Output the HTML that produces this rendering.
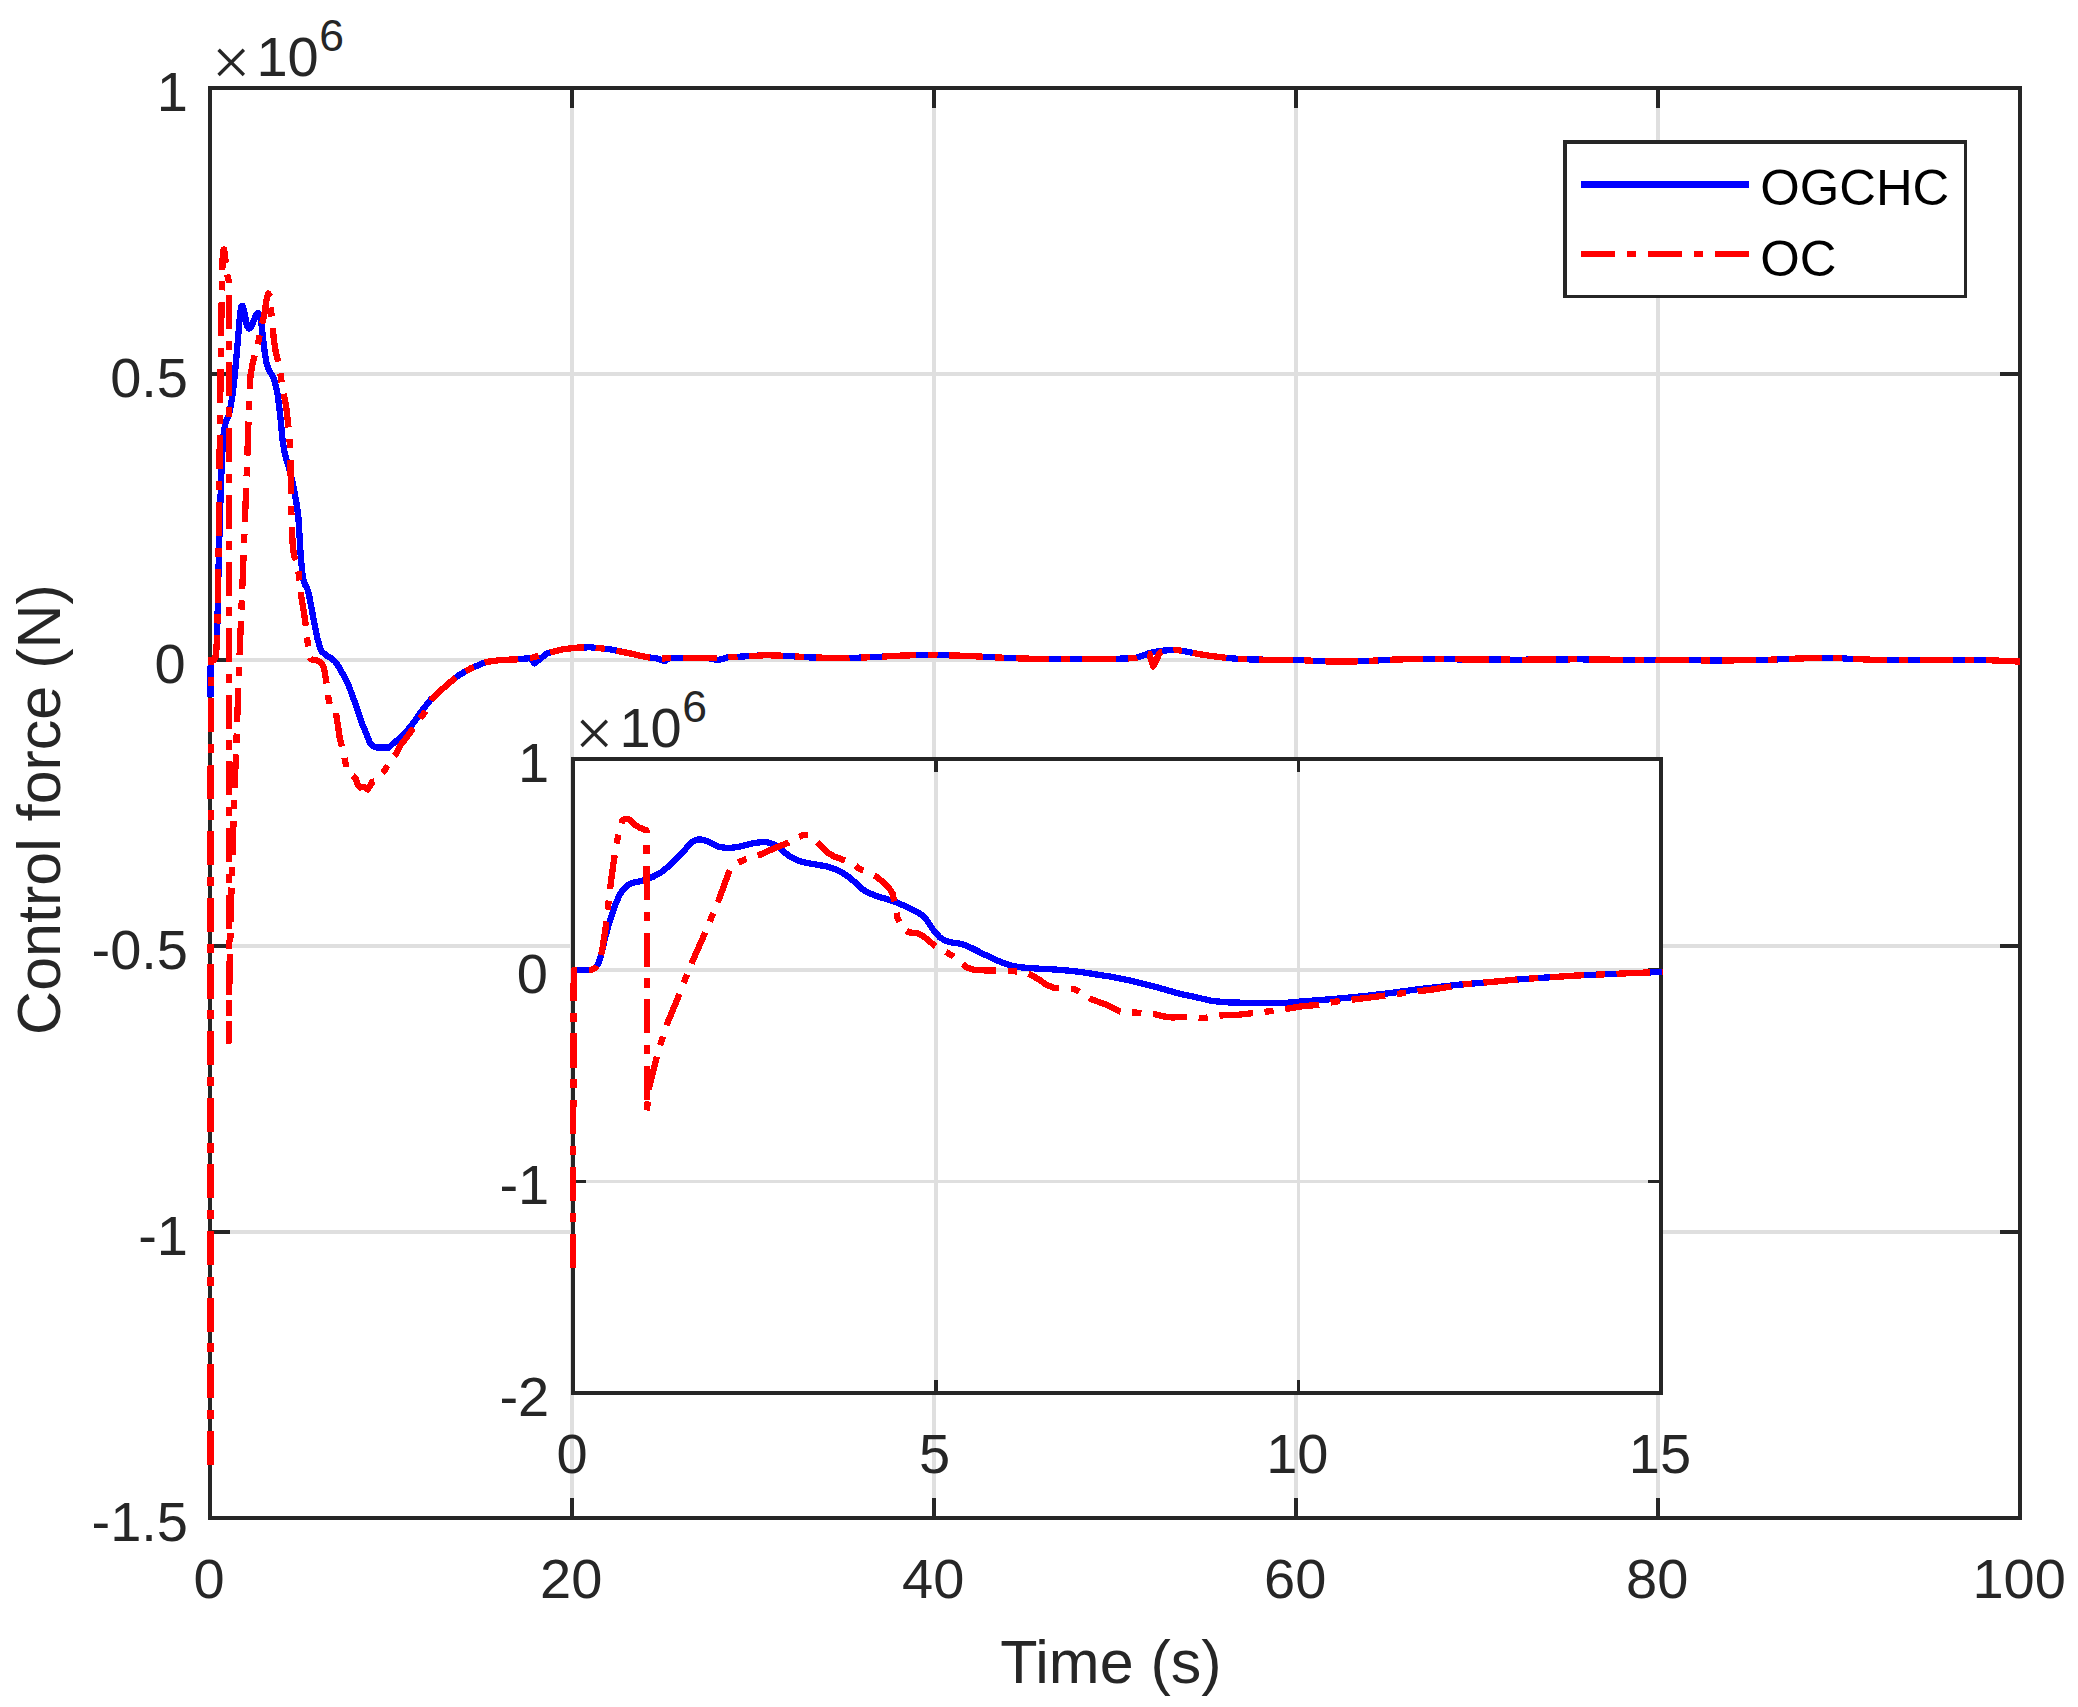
<!DOCTYPE html>
<html lang="en"><head><meta charset="utf-8"><title>Control force</title>
<style>html,body{margin:0;padding:0;background:#fff;}body{width:2078px;height:1707px;overflow:hidden;}svg{display:block;}text{font-family:"Liberation Sans",sans-serif;fill:#262626;}</style>
</head><body>
<svg width="2078" height="1707" viewBox="0 0 2078 1707">
<rect x="0" y="0" width="2078" height="1707" fill="#ffffff"/>
<defs><clipPath id="cm"><rect x="206.8" y="88.0" width="1816.4" height="1430.0"/></clipPath><clipPath id="ci"><rect x="569.8" y="759.0" width="1093.2" height="634.0"/></clipPath></defs>
<g stroke="#dfdfdf" stroke-width="4.0" fill="none">
<line x1="572.0" y1="88.0" x2="572.0" y2="1518.0"/>
<line x1="934.0" y1="88.0" x2="934.0" y2="1518.0"/>
<line x1="1296.0" y1="88.0" x2="1296.0" y2="1518.0"/>
<line x1="1658.0" y1="88.0" x2="1658.0" y2="1518.0"/>
<line x1="210.0" y1="374.0" x2="2020.0" y2="374.0"/>
<line x1="210.0" y1="660.0" x2="2020.0" y2="660.0"/>
<line x1="210.0" y1="946.0" x2="2020.0" y2="946.0"/>
<line x1="210.0" y1="1232.0" x2="2020.0" y2="1232.0"/>
</g>
<g stroke="#262626" stroke-width="4.0" fill="none" stroke-linecap="butt">
<line x1="572.0" y1="1518.0" x2="572.0" y2="1498.0"/>
<line x1="572.0" y1="88.0" x2="572.0" y2="108.0"/>
<line x1="934.0" y1="1518.0" x2="934.0" y2="1498.0"/>
<line x1="934.0" y1="88.0" x2="934.0" y2="108.0"/>
<line x1="1296.0" y1="1518.0" x2="1296.0" y2="1498.0"/>
<line x1="1296.0" y1="88.0" x2="1296.0" y2="108.0"/>
<line x1="1658.0" y1="1518.0" x2="1658.0" y2="1498.0"/>
<line x1="1658.0" y1="88.0" x2="1658.0" y2="108.0"/>
<line x1="210.0" y1="374.0" x2="230.0" y2="374.0"/>
<line x1="2020.0" y1="374.0" x2="2000.0" y2="374.0"/>
<line x1="210.0" y1="660.0" x2="230.0" y2="660.0"/>
<line x1="2020.0" y1="660.0" x2="2000.0" y2="660.0"/>
<line x1="210.0" y1="946.0" x2="230.0" y2="946.0"/>
<line x1="2020.0" y1="946.0" x2="2000.0" y2="946.0"/>
<line x1="210.0" y1="1232.0" x2="230.0" y2="1232.0"/>
<line x1="2020.0" y1="1232.0" x2="2000.0" y2="1232.0"/>
<rect x="210.0" y="88.0" width="1810.0" height="1430.0" stroke-linejoin="miter"/>
</g>
<g fill="none" stroke-linejoin="round" clip-path="url(#cm)" shape-rendering="crispEdges">
<path d="M210.5 697.2 L210.7 659.9 L214.1 659.9 L215.4 657.5 L216.3 650.9 L217.0 638.0 L217.7 609.8 L218.4 574.7 L219.3 539.5 L220.2 508.2 L221.1 480.9 L222.0 457.4 L223.1 439.9 L224.2 429.3 L225.6 422.3 L227.4 418.4 L228.9 414.5 L230.7 405.9 L232.5 394.9 L234.3 379.3 L236.1 360.9 L237.9 340.2 L239.3 322.6 L240.4 311.7 L241.5 306.2 L242.6 305.8 L244.0 310.1 L245.4 317.9 L246.9 325.4 L248.7 328.5 L250.5 327.7 L252.3 324.6 L254.1 319.9 L255.9 315.2 L257.7 312.9 L259.1 313.6 L260.6 318.7 L262.0 328.5 L263.5 342.2 L264.9 353.9 L266.7 363.7 L268.5 368.7 L270.3 372.3 L272.1 375.4 L273.9 379.3 L275.7 385.2 L277.5 394.1 L279.3 407.4 L280.7 420.3 L282.5 439.3 L284.3 451.0 L286.5 460.0 L288.7 466.6 L290.8 474.5 L293.0 484.2 L295.1 495.2 L296.9 505.7 L298.4 517.4 L299.5 535.0 L300.5 552.6 L302.0 570.2 L303.4 580.0 L305.2 585.0 L307.0 587.8 L308.8 593.6 L311.0 605.4 L313.2 617.1 L315.3 628.0 L317.5 638.6 L319.6 646.4 L321.8 651.5 L324.0 653.4 L327.6 656.2 L331.2 658.1 L334.8 661.2 L338.4 666.3 L341.3 671.5 L345.1 677.8 L348.9 686.2 L352.8 696.7 L356.6 707.0 L362.0 723.8 L365.8 732.2 L369.7 742.5 L373.5 746.5 L377.3 747.6 L388.9 747.6 L392.7 743.8 L396.6 740.8 L401.9 736.0 L408.1 729.5 L414.4 721.6 L421.1 711.6 L430.7 699.7 L446.7 685.1 L458.2 675.6 L470.5 668.5 L485.9 662.0 L501.3 659.9 L516.7 659.4 L530.5 658.1 L534.4 663.3 L547.5 653.1 L562.9 649.2 L578.3 647.5 L590.6 647.3 L609.1 649.2 L630.5 653.5 L646.9 657.2 L658.4 658.7 L664.2 661.2 L670.0 658.1 L689.2 658.1 L708.5 658.1 L718.1 660.1 L727.7 657.4 L747.0 656.2 L766.2 655.2 L785.5 655.8 L809.4 657.4 L838.2 658.1 L857.5 657.7 L876.7 657.0 L896.0 655.8 L915.2 655.2 L934.5 655.1 L953.7 655.4 L973.0 656.2 L992.2 657.2 L1011.5 658.1 L1030.7 658.7 L1069.2 658.9 L1107.7 658.9 L1127.0 658.5 L1136.6 657.7 L1142.4 655.8 L1150.1 652.9 L1159.0 651.0 L1174.4 649.7 L1185.9 651.4 L1197.5 653.9 L1212.9 656.2 L1228.3 658.1 L1245.6 659.3 L1274.5 659.9 L1296.6 659.9 L1313.0 660.8 L1332.2 661.6 L1351.5 661.6 L1370.7 660.8 L1390.0 659.7 L1418.9 658.9 L1447.7 659.3 L1476.6 659.5 L1520.5 659.7 L1577.5 659.3 L1664.1 660.3 L1731.5 660.4 L1770.0 659.7 L1798.9 658.5 L1827.7 657.7 L1832.5 657.7 L1847.9 658.7 L1871.0 659.7 L1928.7 659.9 L1986.5 660.1 L2020.2 661.6" stroke="#0000ff" stroke-width="6.30"/>
<path d="M210.5 1464.8 L210.7 659.9 L214.1 659.9 L215.4 657.5 L216.3 650.9 L217.0 638.0 L217.6 613.7 L218.1 586.4 L218.6 547.3 L219.1 496.5 L219.9 430.1 L220.6 371.5 L221.1 332.4 L221.7 301.1 L222.2 273.8 L222.7 256.2 L223.5 249.6 L224.2 249.6 L225.1 256.2 L226.0 266.0 L227.1 273.8 L228.2 278.5 L228.9 281.6 L228.9 1041.3 L229.4 980.4 L231.5 888.6 L232.8 846.4 L234.1 802.0 L236.5 740.3 L238.6 680.2 L240.6 629.4 L243.3 562.9 L245.1 516.1 L246.9 469.2 L248.3 426.2 L249.4 394.9 L250.5 375.4 L252.6 363.7 L254.1 357.8 L257.0 348.0 L260.6 330.4 L264.2 314.8 L266.7 299.2 L268.1 293.3 L269.6 295.3 L271.7 316.8 L273.9 340.2 L275.7 351.9 L278.6 363.7 L280.7 375.4 L282.2 386.5 L286.1 406.1 L287.9 421.7 L289.4 437.3 L290.3 453.0 L290.6 472.5 L291.0 495.9 L291.5 519.4 L292.6 542.8 L294.1 556.5 L296.6 560.4 L298.0 568.2 L299.5 581.9 L301.1 595.6 L303.1 607.3 L305.2 621.0 L307.4 640.5 L308.8 652.2 L310.6 658.9 L313.2 660.1 L316.2 660.1 L320.4 662.0 L323.2 665.9 L324.7 671.8 L326.8 685.5 L328.6 699.1 L330.4 707.0 L331.9 708.9 L335.8 711.6 L339.8 738.2 L343.8 753.8 L347.0 771.4 L351.2 774.7 L355.6 778.1 L357.8 784.8 L360.0 787.5 L363.6 786.7 L367.7 789.5 L372.2 782.0 L375.8 780.9 L379.4 776.9 L384.1 771.1 L388.4 764.4 L392.4 757.4 L396.4 753.5 L400.7 744.9 L405.4 739.0 L409.0 734.1 L416.9 723.0 L424.9 712.1 L433.1 697.5 L446.7 685.1 L458.2 675.6 L470.5 668.5 L484.6 662.5" pathLength="3484.00" stroke="#ff0000" stroke-width="6.30" stroke-dasharray="34.2 11.8 9.2 11.8"/>
<path d="M484.6 662.5 L485.9 662.0 L501.3 659.9 L516.7 659.4 L530.5 658.1 L547.5 653.1 L550.1 652.4" pathLength="67.00" stroke="#ff0000" stroke-width="6.30" stroke-dasharray="34.2 11.8 9.2 11.8"/>
<path d="M550.1 652.4 L562.9 649.2 L578.3 647.5 L590.6 647.3 L609.1 649.2 L616.4 650.7" pathLength="67.00" stroke="#ff0000" stroke-width="6.30" stroke-dasharray="34.2 11.8 9.2 11.8"/>
<path d="M616.4 650.7 L630.5 653.5 L646.9 657.2 L658.4 658.7 L670.0 658.1 L682.8 658.1" pathLength="67.00" stroke="#ff0000" stroke-width="6.30" stroke-dasharray="34.2 11.8 9.2 11.8"/>
<path d="M682.8 658.1 L689.2 658.1 L708.5 658.1 L727.7 657.4 L747.0 656.2 L749.2 656.1" pathLength="67.00" stroke="#ff0000" stroke-width="6.30" stroke-dasharray="34.2 11.8 9.2 11.8"/>
<path d="M749.2 656.1 L766.2 655.2 L785.5 655.8 L809.4 657.4 L815.6 657.5" pathLength="67.00" stroke="#ff0000" stroke-width="6.30" stroke-dasharray="34.2 11.8 9.2 11.8"/>
<path d="M815.6 657.5 L838.2 658.1 L857.5 657.7 L876.7 657.0 L882.0 656.7" pathLength="67.00" stroke="#ff0000" stroke-width="6.30" stroke-dasharray="34.2 11.8 9.2 11.8"/>
<path d="M882.0 656.7 L896.0 655.8 L915.2 655.2 L934.5 655.1 L949.4 655.4" pathLength="67.00" stroke="#ff0000" stroke-width="6.30" stroke-dasharray="34.2 11.8 9.2 11.8"/>
<path d="M949.4 655.4 L953.7 655.4 L973.0 656.2 L992.2 657.2 L1011.5 658.1 L1015.6 658.3" pathLength="67.00" stroke="#ff0000" stroke-width="6.30" stroke-dasharray="34.2 11.8 9.2 11.8"/>
<path d="M1015.6 658.3 L1030.7 658.7 L1069.2 658.9 L1082.0 658.9" pathLength="67.00" stroke="#ff0000" stroke-width="6.30" stroke-dasharray="34.2 11.8 9.2 11.8"/>
<path d="M1082.0 658.9 L1107.7 658.9 L1127.0 658.5 L1136.6 657.7 L1142.4 655.8 L1148.4 654.2" pathLength="67.00" stroke="#ff0000" stroke-width="6.30" stroke-dasharray="34.2 11.8 9.2 11.8"/>
<path d="M1148.4 654.2 L1149.4 653.9 L1153.2 666.4 L1160.0 652.4 L1174.4 649.7 L1185.9 651.4 L1192.7 652.9" pathLength="67.00" stroke="#ff0000" stroke-width="6.30" stroke-dasharray="34.2 11.8 9.2 11.8"/>
<path d="M1192.7 652.9 L1197.5 653.9 L1212.9 656.2 L1228.3 658.1 L1245.6 659.3 L1259.1 659.6" pathLength="67.00" stroke="#ff0000" stroke-width="6.30" stroke-dasharray="34.2 11.8 9.2 11.8"/>
<path d="M1259.1 659.6 L1274.5 659.9 L1296.6 659.9 L1313.0 660.8 L1324.6 661.3" pathLength="67.00" stroke="#ff0000" stroke-width="6.30" stroke-dasharray="34.2 11.8 9.2 11.8"/>
<path d="M1324.6 661.3 L1332.2 661.6 L1351.5 661.6 L1370.7 660.8 L1389.8 659.7" pathLength="67.00" stroke="#ff0000" stroke-width="6.30" stroke-dasharray="34.2 11.8 9.2 11.8"/>
<path d="M1389.8 659.7 L1390.0 659.7 L1418.9 658.9 L1447.7 659.3 L1455.3 659.3" pathLength="67.00" stroke="#ff0000" stroke-width="6.30" stroke-dasharray="34.2 11.8 9.2 11.8"/>
<path d="M1455.3 659.3 L1476.6 659.5 L1520.5 659.7 L1521.7 659.7" pathLength="67.00" stroke="#ff0000" stroke-width="6.30" stroke-dasharray="34.2 11.8 9.2 11.8"/>
<path d="M1521.7 659.7 L1577.5 659.3 L1589.1 659.4" pathLength="67.00" stroke="#ff0000" stroke-width="6.30" stroke-dasharray="34.2 11.8 9.2 11.8"/>
<path d="M1589.1 659.4 L1655.5 660.2" pathLength="67.00" stroke="#ff0000" stroke-width="6.30" stroke-dasharray="34.2 11.8 9.2 11.8"/>
<path d="M1655.5 660.2 L1664.1 660.3 L1721.9 660.4" pathLength="67.00" stroke="#ff0000" stroke-width="6.30" stroke-dasharray="34.2 11.8 9.2 11.8"/>
<path d="M1721.9 660.4 L1731.5 660.4 L1770.0 659.7 L1788.7 658.9" pathLength="67.00" stroke="#ff0000" stroke-width="6.30" stroke-dasharray="34.2 11.8 9.2 11.8"/>
<path d="M1788.7 658.9 L1798.9 658.5 L1827.7 657.7 L1832.5 657.7 L1847.9 658.7 L1853.2 658.9" pathLength="67.00" stroke="#ff0000" stroke-width="6.30" stroke-dasharray="34.2 11.8 9.2 11.8"/>
<path d="M1853.2 658.9 L1871.0 659.7 L1919.6 659.8" pathLength="67.00" stroke="#ff0000" stroke-width="6.30" stroke-dasharray="34.2 11.8 9.2 11.8"/>
<path d="M1919.6 659.8 L1928.7 659.9 L1986.0 660.1" pathLength="67.00" stroke="#ff0000" stroke-width="6.30" stroke-dasharray="34.2 11.8 9.2 11.8"/>
<path d="M1986.0 660.1 L1986.5 660.1 L2020.2 661.6" pathLength="34.52" stroke="#ff0000" stroke-width="6.30" stroke-dasharray="34.2 11.8 9.2 11.8"/>
</g>
<rect x="573.0" y="759.0" width="1088.0" height="634.0" fill="#ffffff"/>
<g shape-rendering="crispEdges">
<rect x="934" y="759" width="4" height="634" fill="#dfdfdf"/>
<rect x="1297" y="759" width="3" height="634" fill="#dfdfdf"/>
<rect x="573" y="968" width="1088" height="4" fill="#dfdfdf"/>
<rect x="573" y="1180" width="1088" height="3" fill="#dfdfdf"/>
<rect x="934" y="1380" width="4" height="13" fill="#262626"/>
<rect x="934" y="759" width="4" height="13" fill="#262626"/>
<rect x="1297" y="1380" width="3" height="13" fill="#262626"/>
<rect x="1297" y="759" width="3" height="13" fill="#262626"/>
<rect x="573" y="968" width="13" height="4" fill="#262626"/>
<rect x="1648" y="968" width="13" height="4" fill="#262626"/>
<rect x="573" y="1180" width="13" height="3" fill="#262626"/>
<rect x="1648" y="1180" width="13" height="3" fill="#262626"/>
<rect x="571" y="757" width="4" height="638" fill="#262626"/>
<rect x="1659" y="757" width="4" height="638" fill="#262626"/>
<rect x="571" y="757" width="1092" height="4" fill="#262626"/>
<rect x="571" y="1391" width="1092" height="4" fill="#262626"/>
</g>
<g fill="none" stroke-linejoin="round" clip-path="url(#ci)" shape-rendering="crispEdges">
<path d="M573.7 970.3 L587.4 970.3 L592.5 969.4 L596.1 967.0 L599.0 962.2 L601.9 951.8 L604.8 938.8 L608.4 925.8 L612.0 914.3 L615.6 904.2 L619.2 895.5 L623.5 889.0 L627.9 885.1 L633.6 882.5 L640.8 881.1 L646.6 879.6 L653.8 876.4 L661.1 872.4 L668.3 866.6 L675.5 859.8 L682.7 852.2 L688.5 845.7 L692.8 841.6 L697.2 839.6 L701.5 839.5 L707.3 841.1 L713.0 844.0 L718.8 846.7 L726.0 847.9 L733.2 847.6 L740.5 846.4 L747.7 844.7 L754.9 842.9 L762.1 842.1 L767.9 842.4 L773.7 844.2 L779.4 847.9 L785.2 852.9 L791.0 857.2 L798.2 860.8 L805.4 862.7 L812.6 864.0 L819.9 865.2 L827.1 866.6 L834.3 868.8 L841.5 872.1 L848.7 877.0 L854.5 881.8 L861.7 888.8 L868.9 893.1 L877.5 896.4 L886.2 898.9 L894.9 901.8 L903.5 905.4 L912.2 909.4 L919.4 913.3 L925.2 917.7 L929.5 924.2 L933.8 930.7 L939.6 937.2 L945.4 940.8 L952.6 942.6 L959.8 943.6 L967.0 945.8 L975.7 950.1 L984.4 954.5 L993.0 958.5 L1001.7 962.4 L1010.4 965.3 L1019.0 967.2 L1027.7 967.9 L1042.1 968.9 L1056.6 969.6 L1071.0 970.8 L1085.4 972.7 L1097.0 974.6 L1112.4 976.9 L1127.8 980.0 L1143.2 983.9 L1158.6 987.7 L1180.0 993.9 L1195.4 997.0 L1210.8 1000.8 L1226.2 1002.3 L1241.6 1002.7 L1287.8 1002.7 L1303.2 1001.3 L1318.6 1000.2 L1340.0 998.4 L1365.0 996.0 L1390.0 993.1 L1417.0 989.4 L1455.5 985.0 L1500.0 981.2 L1515.5 979.6 L1573.2 975.7 L1631.0 973.1 L1661.3 972.0 L1663.2 972.0" stroke="#0000ff" stroke-width="6.30"/>
<path d="M573.0 1267.7 L573.7 970.3 L587.4 970.3 L592.5 969.4 L596.1 967.0 L599.0 962.2 L601.6 953.2 L603.3 943.1 L605.5 928.7 L607.6 909.9 L610.5 885.4 L613.4 863.7 L615.6 849.3 L617.7 837.7 L619.9 827.6 L622.1 821.1 L625.0 818.7 L627.9 818.7 L631.5 821.1 L635.1 824.8 L639.4 827.6 L643.7 829.4 L646.6 830.5 L646.9 1111.2 L648.8 1088.7 L657.2 1054.8 L662.2 1039.2 L667.5 1022.8 L677.0 1000.0 L685.6 977.8 L693.5 959.0 L704.4 934.5 L711.6 917.2 L718.8 899.8 L724.6 883.9 L728.9 872.4 L733.2 865.2 L741.9 860.8 L747.7 858.7 L757.8 855.5" pathLength="1072.00" stroke="#ff0000" stroke-width="6.30" stroke-dasharray="34.2 11.8 9.2 11.8"/>
<path d="M757.8 855.5 L759.2 855.1 L773.7 848.6 L788.1 842.8 L798.2 837.0 L804.0 834.9 L809.8 835.6 L817.0 842.2" pathLength="67.00" stroke="#ff0000" stroke-width="6.30" stroke-dasharray="34.2 11.8 9.2 11.8"/>
<path d="M817.0 842.2 L818.4 843.5 L827.1 852.2 L834.3 856.5 L845.9 860.8 L854.5 865.2 L860.2 869.3 L876.1 876.5 L883.3 882.3 L889.1 888.1 L892.7 893.8 L894.1 901.1 L895.6 909.7 L897.7 918.4 L902.1 927.0 L906.4 930.8" pathLength="134.00" stroke="#ff0000" stroke-width="6.30" stroke-dasharray="34.2 11.8 9.2 11.8"/>
<path d="M906.4 930.8 L907.9 932.1 L918.0 933.5 L923.7 936.4 L929.5 941.5 L936.0 946.5 L943.9 950.9 L952.6 955.9 L961.3 963.1 L962.7 964.2" pathLength="67.00" stroke="#ff0000" stroke-width="6.30" stroke-dasharray="34.2 11.8 9.2 11.8"/>
<path d="M962.7 964.2 L967.0 967.5 L974.3 969.9 L984.4 970.4 L996.6 970.4 L1013.2 971.1 L1024.8 972.5 L1028.5 973.9" pathLength="67.00" stroke="#ff0000" stroke-width="6.30" stroke-dasharray="34.2 11.8 9.2 11.8"/>
<path d="M1028.5 973.9 L1030.6 974.7 L1039.2 979.7 L1046.4 984.8 L1053.7 987.7 L1059.4 988.4 L1075.3 989.4 L1089.3 998.1" pathLength="67.00" stroke="#ff0000" stroke-width="6.30" stroke-dasharray="34.2 11.8 9.2 11.8"/>
<path d="M1089.3 998.1 L1091.2 999.2 L1107.1 1005.0 L1120.1 1011.5 L1137.0 1012.7 L1153.2 1013.9" pathLength="67.00" stroke="#ff0000" stroke-width="6.30" stroke-dasharray="34.2 11.8 9.2 11.8"/>
<path d="M1153.2 1013.9 L1154.6 1014.0 L1163.3 1016.4 L1172.0 1017.4 L1186.4 1017.2 L1203.0 1018.2 L1219.3 1015.7" pathLength="67.00" stroke="#ff0000" stroke-width="6.30" stroke-dasharray="34.2 11.8 9.2 11.8"/>
<path d="M1219.3 1015.7 L1221.1 1015.4 L1235.5 1015.0 L1249.9 1013.5 L1268.7 1011.4 L1285.1 1009.1" pathLength="67.00" stroke="#ff0000" stroke-width="6.30" stroke-dasharray="34.2 11.8 9.2 11.8"/>
<path d="M1285.1 1009.1 L1286.0 1008.9 L1301.9 1006.3 L1317.8 1004.9 L1335.1 1001.7 L1351.5 999.8" pathLength="67.00" stroke="#ff0000" stroke-width="6.30" stroke-dasharray="34.2 11.8 9.2 11.8"/>
<path d="M1351.5 999.8 L1353.9 999.5 L1368.5 997.7 L1400.0 993.6 L1417.6 991.4" pathLength="67.00" stroke="#ff0000" stroke-width="6.30" stroke-dasharray="34.2 11.8 9.2 11.8"/>
<path d="M1417.6 991.4 L1432.0 989.6 L1465.0 984.2 L1483.5 982.6" pathLength="67.00" stroke="#ff0000" stroke-width="6.30" stroke-dasharray="34.2 11.8 9.2 11.8"/>
<path d="M1483.5 982.6 L1500.0 981.2 L1515.5 979.6 L1550.1 977.3" pathLength="67.00" stroke="#ff0000" stroke-width="6.30" stroke-dasharray="34.2 11.8 9.2 11.8"/>
<path d="M1550.1 977.3 L1573.2 975.7 L1616.5 973.8" pathLength="67.00" stroke="#ff0000" stroke-width="6.30" stroke-dasharray="34.2 11.8 9.2 11.8"/>
<path d="M1616.5 973.8 L1631.0 973.1 L1661.3 972.0 L1663.2 972.0" pathLength="47.14" stroke="#ff0000" stroke-width="6.30" stroke-dasharray="34.2 11.8 9.2 11.8"/>
</g>
<g shape-rendering="crispEdges"><rect x="1563" y="140" width="404" height="158" fill="#262626"/><rect x="1567" y="144" width="397" height="151" fill="#ffffff"/></g>
<line x1="1581" y1="184.5" x2="1749" y2="184.5" stroke="#0000ff" stroke-width="7" shape-rendering="crispEdges"/>
<line x1="1581" y1="254" x2="1749" y2="254" stroke="#ff0000" stroke-width="6" stroke-dasharray="34.2 11.8 9.2 11.8" shape-rendering="crispEdges"/>
<text x="1760.2" y="205" font-size="50.8" style="fill:#000000">OGCHC</text>
<text x="1760.2" y="275.5" font-size="50.8" style="fill:#000000">OC</text>
<g font-size="56.0">
<text x="209.2" y="1598" text-anchor="middle">0</text>
<text x="571.2" y="1598" text-anchor="middle">20</text>
<text x="933.2" y="1598" text-anchor="middle">40</text>
<text x="1295.2" y="1598" text-anchor="middle">60</text>
<text x="1657.2" y="1598" text-anchor="middle">80</text>
<text x="2019.2" y="1598" text-anchor="middle">100</text>
<text x="188.0" y="110.5" text-anchor="end">1</text>
<text x="188.0" y="396.5" text-anchor="end">0.5</text>
<text x="185.6" y="682.5" text-anchor="end">0</text>
<text x="188.0" y="968.5" text-anchor="end">-0.5</text>
<text x="188.0" y="1254.5" text-anchor="end">-1</text>
<text x="188.0" y="1540.5" text-anchor="end">-1.5</text>
<g transform="translate(0.0 0.0)"><text x="212.1" y="84.9" font-size="68" style="font-family:'Liberation Serif',serif">×</text><text x="256.4" y="75.8" font-size="56.0">10</text><text x="319.2" y="51.0" font-size="44.5">6</text></g>
</g>
<g font-size="56.0">
<text x="572.0" y="1473" text-anchor="middle">0</text>
<text x="934.7" y="1473" text-anchor="middle">5</text>
<text x="1297.3" y="1473" text-anchor="middle">10</text>
<text x="1660.0" y="1473" text-anchor="middle">15</text>
<text x="549.2" y="781.5" text-anchor="end">1</text>
<text x="548.0" y="992.8" text-anchor="end">0</text>
<text x="549.2" y="1204.2" text-anchor="end">-1</text>
<text x="549.2" y="1415.5" text-anchor="end">-2</text>
<g transform="translate(363.0 671.2)"><text x="212.1" y="84.9" font-size="68" style="font-family:'Liberation Serif',serif">×</text><text x="256.4" y="75.8" font-size="56.0">10</text><text x="319.2" y="51.0" font-size="44.5">6</text></g>
</g>
<text x="1111" y="1683" font-size="61.0" text-anchor="middle">Time (s)</text>
<text transform="translate(59.5 809.5) rotate(-90)" font-size="61.0" text-anchor="middle">Control force (N)</text>
</svg></body></html>
